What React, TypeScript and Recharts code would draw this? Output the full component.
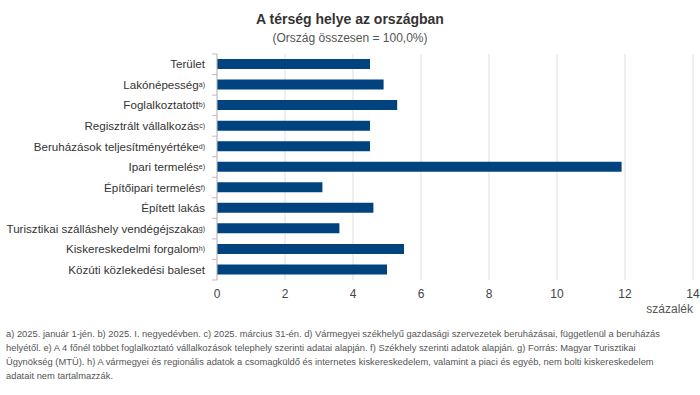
import { BarChart, Bar, XAxis, YAxis, CartesianGrid } from 'recharts';

const categories = [
  'Terület',
  'Lakónépesség',
  'Foglalkoztatott',
  'Regisztrált vállalkozás',
  'Beruházások teljesítményértéke',
  'Ipari termelés',
  'Építőipari termelés',
  'Épített lakás',
  'Turisztikai szálláshely vendégéjszaka',
  'Kiskereskedelmi forgalom',
  'Közúti közlekedési baleset',
];
const notes = ['', 'a)', 'b)', 'c)', 'd)', 'e)', 'f)', '', 'g)', 'h)', ''];
const values = [4.5, 4.9, 5.3, 4.5, 4.5, 11.9, 3.1, 4.6, 3.6, 5.5, 5.0];
const xTicks = [0, 2, 4, 6, 8, 10, 12, 14];

const footnotes = [
  'a) 2025. január 1-jén. b) 2025. I. negyedévben. c) 2025. március 31-én. d) Vármegyei székhelyű gazdasági szervezetek beruházásai, függetlenül a beruházás',
  'helyétől. e) A 4 főnél többet foglalkoztató vállalkozások telephely szerinti adatai alapján. f) Székhely szerinti adatok alapján. g) Forrás: Magyar Turisztikai',
  'Ügynökség (MTÜ). h) A vármegyei és regionális adatok a csomagküldő és internetes kiskereskedelem, valamint a piaci és egyéb, nem bolti kiskereskedelem',
  'adatait nem tartalmazzák.',
];

const data = categories.map((name, i) => ({ name, note: notes[i], value: values[i] }));

const FONT = '"Liberation Sans", Arial, sans-serif';
const TOP = 54;
const PLOT_H = 226;
const AXIS_X = 217;
const band = PLOT_H / categories.length;

function CategoryTick(props: any) {
  const { y, payload, index } = props;
  const note = notes[index];
  return (
    <g>
      <line x1={AXIS_X - 5} x2={AXIS_X} y1={y - band / 2} y2={y - band / 2} stroke="#bdbdbd" />
      {index === categories.length - 1 && (
        <line x1={AXIS_X - 5} x2={AXIS_X} y1={y + band / 2} y2={y + band / 2} stroke="#bdbdbd" />
      )}
      <text x={205} y={y} dy="0.35em" textAnchor="end" fontSize={11.6} fill="#333" fontFamily={FONT}>
        {payload.value}
        {note && (
          <tspan fontSize={7} dy={-2}>
            {note}
          </tspan>
        )}
      </text>
    </g>
  );
}

export default function App() {
  return (
    <div style={{ position: 'absolute', left: 0, top: 0, width: 700, height: 395, background: '#fff', fontFamily: FONT }}>
      <div style={{ position: 'absolute', top: 11, width: 700, textAlign: 'center', fontSize: 14, fontWeight: 'bold', color: '#333' }}>
        A térség helye az országban
      </div>
      <div style={{ position: 'absolute', top: 31, width: 700, textAlign: 'center', fontSize: 12, color: '#555' }}>
        (Ország összesen = 100,0%)
      </div>
      <div style={{ position: 'absolute', top: 0, left: 0 }}>
        <BarChart
          width={700}
          height={TOP + PLOT_H + 34}
          data={data}
          layout="vertical"
          margin={{ top: TOP, right: 7, bottom: 14, left: 0 }}
          barCategoryGap="25%"
        >
          <CartesianGrid horizontal={false} stroke="#dedede" />
          <XAxis
            type="number"
            domain={[0, 14]}
            ticks={xTicks}
            axisLine={false}
            tickLine={false}
            height={20}
            tick={{ fontSize: 12, fill: '#444', fontFamily: FONT }}
            tickMargin={3}
          />
          <YAxis
            type="category"
            dataKey="name"
            width={AXIS_X}
            axisLine={{ stroke: '#bdbdbd' }}
            tickLine={false}
            tick={<CategoryTick />}
            interval={0}
          />
          <Bar dataKey="value" fill="#00437f" barSize={10} isAnimationActive={false} />
        </BarChart>
      </div>
      <div style={{ position: 'absolute', top: 302, right: 7, fontSize: 12, color: '#555' }}>százalék</div>
      <div style={{ position: 'absolute', top: 327, left: 6, fontSize: 9.35, lineHeight: '14px', color: '#555' }}>
        {footnotes.map((line, i) => (
          <div key={i} style={{ whiteSpace: 'nowrap' }}>
            {line}
          </div>
        ))}
      </div>
    </div>
  );
}
